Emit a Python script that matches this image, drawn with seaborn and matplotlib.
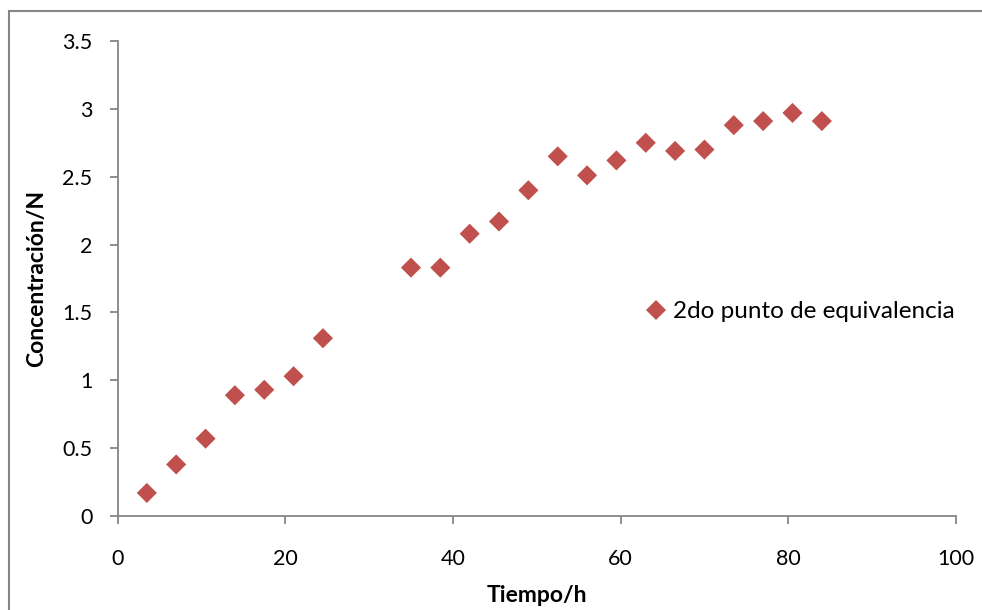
import matplotlib
matplotlib.use("Agg")
import matplotlib.pyplot as plt
import seaborn as sns
import pandas as pd
from matplotlib.patches import Rectangle

tiempo = [3.5, 7.0, 10.5, 14.0, 17.5, 21.0, 24.5,
          35.0, 38.5, 42.0, 45.5, 49.0, 52.5, 56.0, 59.5, 63.0, 66.5, 70.0,
          73.5, 77.0, 80.5, 84.0]
concentracion = [0.17, 0.38, 0.57, 0.89, 0.93, 1.03, 1.31,
                 1.83, 1.83, 2.08, 2.17, 2.40, 2.65, 2.51, 2.62, 2.75, 2.69, 2.70,
                 2.88, 2.91, 2.97, 2.91]
serie = "2do punto de equivalencia"
x_ticks = [0, 20, 40, 60, 80, 100]
y_ticks = [0, 0.5, 1, 1.5, 2, 2.5, 3, 3.5]
y_tick_labels = ["0", "0.5", "1", "1.5", "2", "2.5", "3", "3.5"]

df = pd.DataFrame({"Tiempo/h": tiempo, "Concentración/N": concentracion,
                   "serie": [serie] * len(tiempo)})

sns.set_theme(style="white")
plt.rcParams["font.family"] = ["Lato", "DejaVu Sans"]
plt.rcParams["text.color"] = "black"

fig = plt.figure(figsize=(9.82, 6.10), dpi=100)
ax = fig.add_axes([117.5 / 982, 1 - 516 / 610, (956 - 117.5) / 982, (516 - 41) / 610])

color = "#C0504D"
sns.scatterplot(data=df, x="Tiempo/h", y="Concentración/N", hue="serie",
                palette=[color], marker="D", s=105, linewidth=0, ax=ax)

ax.set_xlim(0, 100)
ax.set_ylim(0, 3.5)
ax.set_xticks(x_ticks)
ax.set_yticks(y_ticks)
ax.set_yticklabels(y_tick_labels)

for s in ["top", "right"]:
    ax.spines[s].set_visible(False)
for s in ["left", "bottom"]:
    ax.spines[s].set_color("#868686")
    ax.spines[s].set_linewidth(1.3)

ax.tick_params(axis="both", which="major", direction="out", length=6,
               width=1.3, color="#868686", labelsize=15.5, labelcolor="black",
               left=True, bottom=True)
ax.tick_params(axis="y", pad=12)
ax.tick_params(axis="x", pad=18)

ax.set_xlabel("Tiempo/h", fontsize=16.5, fontweight="bold", color="black")
ax.set_ylabel("Concentración/N", fontsize=16.5, fontweight="bold", color="black")
ax.xaxis.set_label_coords(0.5, -0.145)
ax.yaxis.set_label_coords(-0.084, 0.5)

leg = ax.legend(loc="center left", bbox_to_anchor=(0.628, 0.43), frameon=False,
                fontsize=17.5, handletextpad=0.2, handlelength=1.0,
                borderpad=0, borderaxespad=0, markerscale=1.0)
for t in leg.get_texts():
    t.set_color("black")

fig.patches.append(Rectangle((9 / 982, -0.1), 1.1, 1 - 11 / 610 + 0.1,
                             transform=fig.transFigure, fill=False,
                             edgecolor="#868686", linewidth=1.5))

fig.savefig("out.png", dpi=100)
